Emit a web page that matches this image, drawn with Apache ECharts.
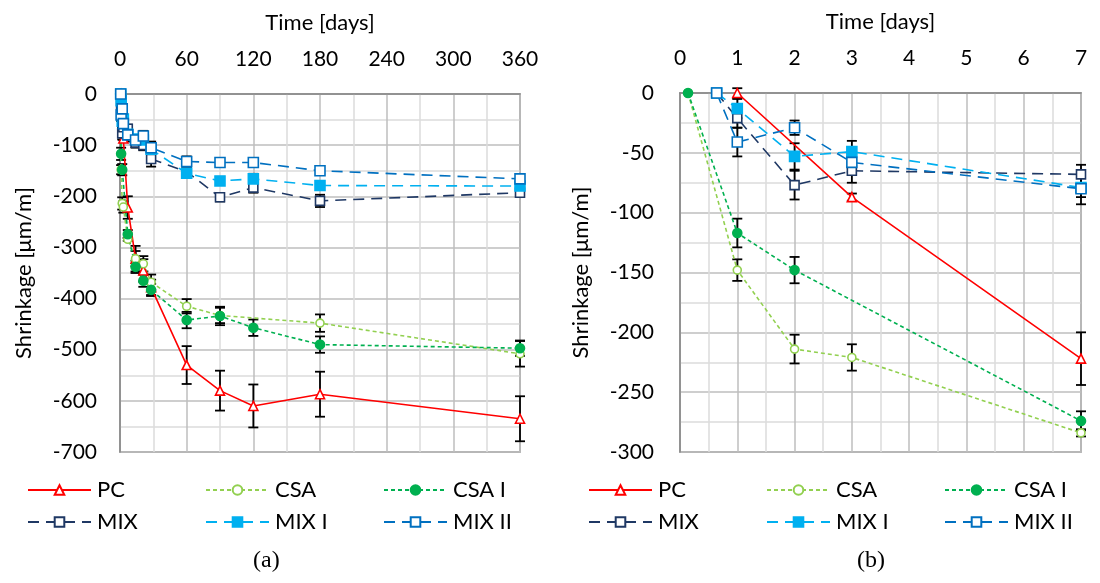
<!DOCTYPE html>
<html>
<head>
<meta charset="utf-8">
<script src="https://cdn.jsdelivr.net/npm/echarts@6/dist/echarts.min.js"></script>
<style>
  html, body { margin: 0; padding: 0; background: #ffffff; }
  #chart { width: 1100px; height: 583px; }
</style>
</head>
<body>
<div id="chart"></div>
<script>
// ---- Shrinkage measurements (µm/m) by age in days, with ± error ----
const PC_DAYS   = [1, 3, 7, 14, 21, 28, 60, 90, 120, 180, 360];
const PC_VALUES = [0, -87, -222, -322, -345, -378, -530, -580, -610, -587, -635];
const PC_ERR    = [4, 3, 22, 25, 22, 15, 37, 39, 42, 44, 44];

const CSA_DAYS   = [0.14, 1, 2, 3, 7, 14, 21, 28, 60, 90, 180, 360];
const CSA_VALUES = [0, -148, -214, -221, -284, -322, -332, -368, -415, -433, -448, -508];
const CSA_ERR    = [0, 9, 12, 11, 3, 15, 15, 15, 14, 15, 17, 25];

const CSA1_DAYS   = [0.14, 1, 2, 7, 14, 21, 28, 60, 90, 120, 180, 360];
const CSA1_VALUES = [0, -117, -148, -274, -338, -365, -383, -442, -434, -457, -490, -497];
const CSA1_ERR    = [0, 12, 11, 8, 12, 12, 12, 16, 18, 16, 16, 15];

const MIX_DAYS   = [0.64, 1, 2, 3, 7, 14, 21, 28, 60, 90, 120, 180, 360];
const MIX_VALUES = [0, -21, -77, -65, -68, -95, -100, -127, -152, -202, -183, -209, -193];
const MIX_ERR    = [0, 8, 12, 10, 8, 10, 10, 15, 10, 8, 10, 12, 8];

const MIX1_VALUES = [0, -13, -53, -49, -79, -88, -90, -108, -155, -170, -166, -179, -180];
const MIX1_ERR    = [0, 8, 11, 9, 8, 8, 8, 10, 8, 8, 10, 8, 5];

const MIX2_VALUES = [0, -41, -29, -58, -80, -90, -82, -105, -132, -134, -134, -150, -166];
const MIX2_ERR    = [0, 12, 6, 8, 13, 10, 10, 12, 10, 8, 8, 8, 8];

const SERIES_NAMES = ['PC', 'CSA', 'CSA I', 'MIX', 'MIX I', 'MIX II'];

// ---- Axis ticks ----
const LONG_X_TICKS  = [0, 60, 120, 180, 240, 300, 360];
const LONG_Y_TICKS  = [0, -100, -200, -300, -400, -500, -600, -700];
const SHORT_X_TICKS = [0, 1, 2, 3, 4, 5, 6, 7];
const SHORT_Y_TICKS = [0, -50, -100, -150, -200, -250, -300];

const SETS = [
  { name: 'PC',     days: PC_DAYS,   values: PC_VALUES,   err: PC_ERR },
  { name: 'CSA',    days: CSA_DAYS,  values: CSA_VALUES,  err: CSA_ERR },
  { name: 'CSA I',  days: CSA1_DAYS, values: CSA1_VALUES, err: CSA1_ERR },
  { name: 'MIX',    days: MIX_DAYS,  values: MIX_VALUES,  err: MIX_ERR },
  { name: 'MIX I',  days: MIX_DAYS,  values: MIX1_VALUES, err: MIX1_ERR },
  { name: 'MIX II', days: MIX_DAYS,  values: MIX2_VALUES, err: MIX2_ERR }
];

const FONT = 'Lato';
const TXT = '#000000';

const STYLE = {
  'PC':     { color: '#FF0000', type: 'solid',  symbol: 'triangle', fill: '#ffffff', size: 9 },
  'CSA':    { color: '#92D050', type: [4, 3],   symbol: 'circle',   fill: '#ffffff', size: 8 },
  'CSA I':  { color: '#00B050', type: [4, 3],   symbol: 'circle',   fill: '#00B050', size: 9 },
  'MIX':    { color: '#1F3864', type: [11, 7],  symbol: 'rect',     fill: '#ffffff', size: 9 },
  'MIX I':  { color: '#00B0F0', type: [11, 7],  symbol: 'rect',     fill: '#00B0F0', size: 10 },
  'MIX II': { color: '#0070C0', type: [11, 7],  symbol: 'rect',     fill: '#ffffff', size: 10 }
};

function lineSeries(set, axisIdx, maxDay) {
  const st = STYLE[set.name];
  const data = set.days.map((d, i) => [d, set.values[i]]).filter(p => p[0] <= maxDay);
  return {
    name: set.name, type: 'line', xAxisIndex: axisIdx, yAxisIndex: axisIdx,
    data: data, z: 5, symbol: st.symbol, symbolSize: st.size,
    lineStyle: { color: st.color, width: 1.6, type: st.type },
    itemStyle: { color: st.fill, borderColor: st.color, borderWidth: 1.6 },
    emphasis: { disabled: true }
  };
}

function errorSeries(set, axisIdx, maxDay) {
  const data = set.days
    .map((d, i) => [d, set.values[i] - set.err[i], set.values[i] + set.err[i], set.err[i]])
    .filter(p => p[0] <= maxDay && p[3] > 0);
  return {
    type: 'custom', xAxisIndex: axisIdx, yAxisIndex: axisIdx, z: 3,
    data: data, encode: { x: 0, y: [1, 2] }, silent: true,
    renderItem: function (params, api) {
      const top = api.coord([api.value(0), api.value(2)]);
      const bot = api.coord([api.value(0), api.value(1)]);
      const cap = 5;
      const st = { stroke: '#000000', lineWidth: 1.8 };
      return {
        type: 'group',
        children: [
          { type: 'line', shape: { x1: top[0], y1: top[1], x2: bot[0], y2: bot[1] }, style: st },
          { type: 'line', shape: { x1: top[0] - cap, y1: top[1], x2: top[0] + cap, y2: top[1] }, style: st },
          { type: 'line', shape: { x1: bot[0] - cap, y1: bot[1], x2: bot[0] + cap, y2: bot[1] }, style: st }
        ]
      };
    }
  };
}

function xAxis(gridIndex, ticks) {
  return {
    type: 'value', gridIndex: gridIndex, position: 'top',
    min: ticks[0], max: ticks[ticks.length - 1], interval: ticks[1] - ticks[0],
    name: 'Time [days]', nameLocation: 'middle', nameGap: 60,
    nameTextStyle: { fontFamily: FONT, fontSize: 22, color: TXT },
    axisLine: { show: true, lineStyle: { color: '#868686', width: 1.5 } },
    axisTick: { show: false },
    axisLabel: { fontFamily: FONT, fontSize: 21, color: TXT, margin: 24 },
    splitLine: { show: true, lineStyle: { color: '#BEBEBE', width: 1.5 } },
    minorTick: { show: false, splitNumber: 2 },
    minorSplitLine: { show: true, lineStyle: { color: '#DCDCDC', width: 1.5 } }
  };
}

function yAxis(gridIndex, ticks, margin) {
  return {
    type: 'value', gridIndex: gridIndex,
    min: ticks[ticks.length - 1], max: ticks[0], interval: ticks[0] - ticks[1],
    name: 'Shrinkage [μm/m]', nameLocation: 'middle', nameGap: margin + 62,
    nameTextStyle: { fontFamily: FONT, fontSize: 22, color: TXT },
    axisLine: { show: true, lineStyle: { color: '#868686', width: 1.5 } },
    axisTick: { show: false },
    axisLabel: { fontFamily: FONT, fontSize: 21, color: TXT, margin: margin },
    splitLine: { show: true, lineStyle: { color: '#BEBEBE', width: 1.5 } },
    minorTick: { show: false, splitNumber: 2 },
    minorSplitLine: { show: true, lineStyle: { color: '#DCDCDC', width: 1.5 } }
  };
}

// legend: one component per entry, laid out as 3 columns x 2 rows under each plot
const legends = [];
[0, 561].forEach(function (dx) {
  SERIES_NAMES.forEach(function (name, i) {
    const col = i % 3, row = Math.floor(i / 3);
    legends.push({
      data: [name], left: 22 + dx + col * 178, top: 474 + row * 32,
      itemWidth: 63, itemHeight: 12, selectedMode: false,
      textStyle: { fontFamily: FONT, fontSize: 22, color: TXT, padding: [0, 0, 0, 1] }
    });
  });
});

const series = [];
SETS.forEach(s => series.push(errorSeries(s, 0, 1000)));
SETS.forEach(s => series.push(errorSeries(s, 1, 7)));
SETS.forEach(s => series.push(lineSeries(s, 0, 1000)));
SETS.forEach(s => series.push(lineSeries(s, 1, 7)));

const chart = echarts.init(document.getElementById('chart'), null, { renderer: 'canvas' });
chart.setOption({
  animation: false,
  backgroundColor: '#ffffff',
  grid: [
    { left: 120, top: 94, width: 400, height: 358, show: true, borderColor: '#868686', borderWidth: 1.5 },
    { left: 680, top: 93, width: 401, height: 359, show: true, borderColor: '#868686', borderWidth: 1.5 }
  ],
  xAxis: [xAxis(0, LONG_X_TICKS), xAxis(1, SHORT_X_TICKS)],
  yAxis: [yAxis(0, LONG_Y_TICKS, 23), yAxis(1, SHORT_Y_TICKS, 26)],
  legend: legends,
  series: series,
  graphic: [
    { type: 'text', left: 253, top: 549, style: { text: '(a)', font: '24px "Liberation Serif"', fill: TXT } },
    { type: 'text', left: 857, top: 549, style: { text: '(b)', font: '24px "Liberation Serif"', fill: TXT } }
  ]
});
</script>
</body>
</html>
